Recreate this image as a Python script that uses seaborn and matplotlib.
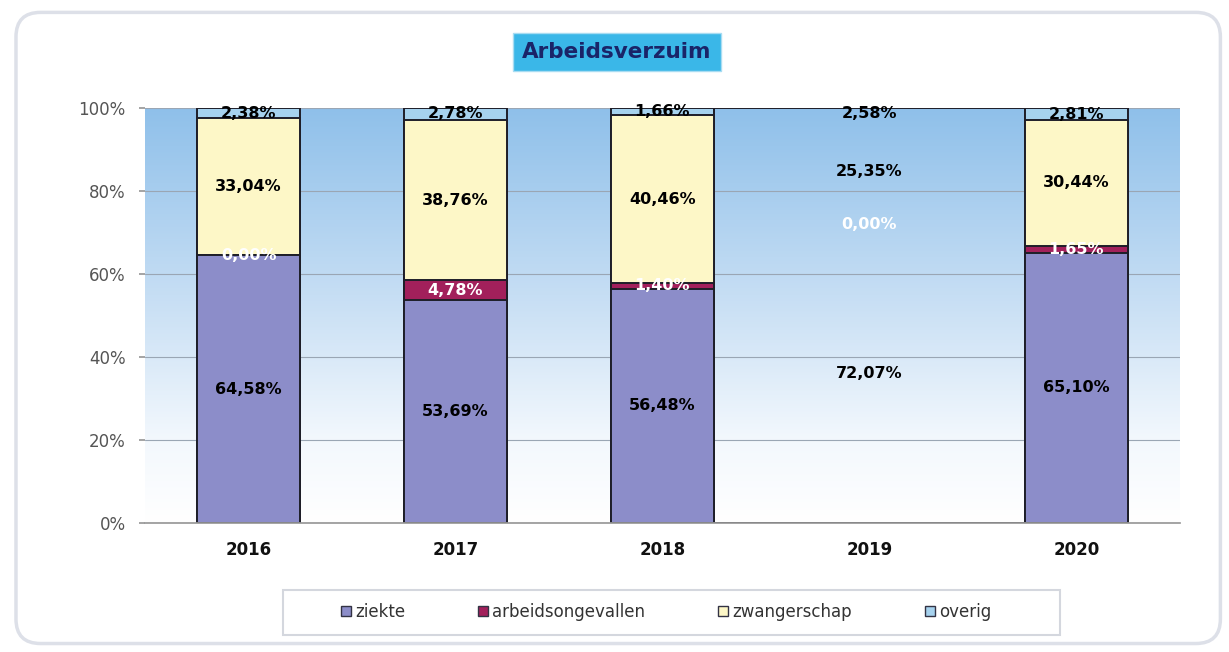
import numpy as np
import pandas as pd
import matplotlib.pyplot as plt
import seaborn as sns
from matplotlib.patches import FancyBboxPatch, Patch
from matplotlib.colors import LinearSegmentedColormap

sns.set_theme(style="white")
plt.rcParams['font.family'] = ['DejaVu Sans']

jaren = ['2016', '2017', '2018', '2019', '2020']
ziekte = [64.58, 53.69, 56.48, 72.07, 65.10]
arbeidsongevallen = [0.00, 4.78, 1.40, 0.00, 1.65]
zwangerschap = [33.04, 38.76, 40.46, 25.35, 30.44]
overig = [2.38, 2.78, 1.66, 2.58, 2.81]
series = ['ziekte', 'arbeidsongevallen', 'zwangerschap', 'overig']
kleuren = ['#8c8dc9', '#a2205b', '#fdf7c7', '#a6d2ee']
labelkleur = ['black', 'white', 'black', 'black']
leeg_jaar = '2019'  # in het origineel zonder vulling

df = pd.DataFrame({'jaar': jaren, 'ziekte': ziekte,
                   'arbeidsongevallen': arbeidsongevallen,
                   'zwangerschap': zwangerschap, 'overig': overig})
cum = df[series].cumsum(axis=1)

fig = plt.figure(figsize=(12.29, 6.52), dpi=100)

# kader rond de grafiek
kader = FancyBboxPatch((0.013, 0.013), 0.98, 0.968, transform=fig.transFigure,
                       boxstyle='round,pad=0,rounding_size=0.02',
                       mutation_aspect=1229 / 652,
                       facecolor='white', edgecolor='#dde0e8', lw=2.5, zorder=-1)
fig.patches.append(kader)

ax = fig.add_axes([0.118, 0.198, 0.842, 0.636])
ax.patch.set_alpha(0)

# gestapelde balken: cumulatief, van boven naar beneden tekenen
for i in reversed(range(len(series))):
    sns.barplot(x=df['jaar'], y=cum[series[i]], color=kleuren[i], width=0.5,
                saturation=1, edgecolor='#1e1e28', linewidth=1.4, ax=ax, zorder=2)

n = len(jaren)
j_leeg = jaren.index(leeg_jaar)
for k, p in enumerate(ax.patches):
    if k % n == j_leeg:
        p.set_facecolor('none')
        if k < n:
            # totale balk: breedte tot de buren
            links = ax.patches[j_leeg - 1]
            rechts = ax.patches[j_leeg + 1]
            x0 = links.get_x() + links.get_width()
            p.set_x(x0)
            p.set_width(rechts.get_x() - x0)
        else:
            p.set_edgecolor('none')

# achtergrondverloop
grad = np.linspace(0, 1, 256).reshape(-1, 1)
cmap = LinearSegmentedColormap.from_list(
    'bg', [(0, '#ffffff'), (0.2, '#f3f8fd'), (0.55, '#c6def4'), (1, '#8fc0ea')])
ax.imshow(grad, extent=(-0.5, n - 0.5, 0, 100), origin='lower', aspect='auto',
          cmap=cmap, zorder=0)

# labels
for j in range(n):
    onder = 0
    for i, s in enumerate(series):
        v = df[s][j]
        ax.text(j, onder + v / 2, f"{v:.2f}%".replace('.', ','), ha='center',
                va='center', fontsize=11.5, fontweight='bold',
                color=labelkleur[i], zorder=5)
        onder += v

ax.set_xlim(-0.5, n - 0.5)
ax.set_ylim(0, 100)
ax.set_yticks(range(0, 101, 20))
ax.set_yticklabels([f"{t}%" for t in range(0, 101, 20)], color='#555555', fontsize=12)
ax.set_axisbelow(True)
ax.yaxis.grid(True, color='#9aa6b4', lw=0.8)
ax.tick_params(axis='y', left=True, length=4, color='#999999', pad=10)
ax.tick_params(axis='x', bottom=False, pad=7)
for t in ax.get_xticklabels():
    t.set_fontweight('bold')
    t.set_fontsize(12)
    t.set_color('#111111')
ax.set_xlabel('')
ax.set_ylabel('')
for s in ['left', 'top', 'right']:
    ax.spines[s].set_visible(False)
ax.spines['bottom'].set_color('#999999')

# titel
fig.text(0.502, 0.920, 'Arbeidsverzuim', ha='center', va='center', fontsize=15.5,
         fontweight='bold', color='#1a2468',
         bbox=dict(boxstyle='square,pad=0.42', facecolor='#3ab7e8', edgecolor='#a8dcf2'))

# legenda met eigen kader
leg_kader = FancyBboxPatch((283 / 1229, 17 / 652), 777 / 1229, 45 / 652,
                           transform=fig.transFigure, boxstyle='square,pad=0',
                           facecolor='white', edgecolor='#d4d7de', lw=1.5, zorder=1)
fig.patches.append(leg_kader)
handles = [Patch(facecolor=c, edgecolor='#333344') for c in kleuren]
leg = fig.legend(handles, series, loc='center', ncol=4, mode='expand',
                 bbox_to_anchor=(326 / 1229, 20 / 652, 680 / 1229, 40 / 652),
                 frameon=False, handlelength=0.6, handleheight=0.6,
                 handletextpad=0.25, fontsize=12)
for t in leg.get_texts():
    t.set_color('#333333')

fig.savefig('out.png', dpi=100)
